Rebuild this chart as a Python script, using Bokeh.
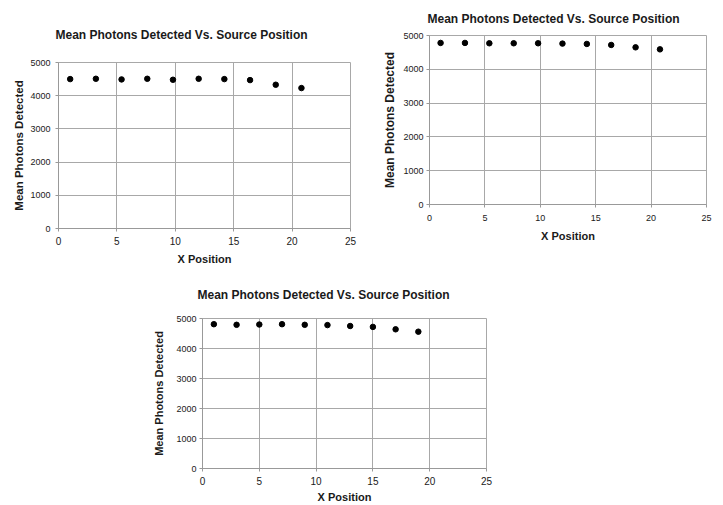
from bokeh.plotting import figure
from bokeh.layouts import column, row
from bokeh.models import Range1d, FixedTicker, Spacer
from bokeh.embed import file_html
from bokeh.resources import INLINE

# ---- data ----
x_a = [1, 3.2, 5.4, 7.6, 9.8, 12, 14.2, 16.4, 18.6, 20.8]
y_a = [4500, 4510, 4490, 4510, 4480, 4510, 4500, 4470, 4330, 4230]

x_b = [1, 3.2, 5.4, 7.6, 9.8, 12, 14.2, 16.4, 18.6, 20.8]
y_b = [4780, 4780, 4770, 4770, 4770, 4760, 4750, 4720, 4650, 4590]

x_c = [1, 3, 5, 7, 9, 11, 13, 15, 17, 19]
y_c = [4810, 4790, 4800, 4810, 4790, 4780, 4750, 4720, 4640, 4560]

title_text = "Mean Photons Detected Vs. Source Position"
x_label = "X Position"
y_label = "Mean Photons Detected"
x_ticks = [0, 5, 10, 15, 20, 25]
y_ticks = [0, 1000, 2000, 3000, 4000, 5000]

FONT = "Liberation Sans"
GRID = "#a8a8a8"
AXIS = "#999999"
TEXT = "#1a1a1a"


def make_chart(xs, ys, width, height, mb, tcfg, xcfg, ycfg):
    p = figure(width=width, height=height, output_backend="svg",
               toolbar_location=None,
               x_range=Range1d(0, 25), y_range=Range1d(0, 5000),
               min_border_left=mb[0], min_border_right=mb[1],
               min_border_top=mb[2], min_border_bottom=mb[3])
    p.title.text = title_text
    p.title.text_font = FONT
    p.title.text_font_size = "12px"
    p.title.text_font_style = "bold"
    p.title.text_color = TEXT
    p.title.align = "left"
    p.title.offset = tcfg[0]
    p.title.standoff = tcfg[1]

    p.outline_line_color = GRID
    p.background_fill_color = "white"
    p.border_fill_color = "white"

    for ax, cfg, ticks, lab in ((p.xaxis[0], xcfg, x_ticks, x_label),
                                (p.yaxis[0], ycfg, y_ticks, y_label)):
        ax.ticker = FixedTicker(ticks=ticks)
        ax.axis_label = lab
        ax.axis_label_text_font = FONT
        ax.axis_label_text_font_style = "bold"
        ax.axis_label_text_font_size = cfg[0]
        ax.axis_label_text_color = TEXT
        ax.axis_label_standoff = cfg[1]
        ax.major_label_text_font = FONT
        ax.major_label_text_font_size = cfg[2]
        ax.major_label_text_color = TEXT
        ax.major_label_standoff = cfg[3]
        ax.major_tick_out = cfg[4]
        ax.major_tick_in = 0
        ax.minor_tick_line_color = None
        ax.axis_line_color = AXIS
        ax.major_tick_line_color = AXIS

    p.xgrid.ticker = FixedTicker(ticks=x_ticks)
    p.ygrid.ticker = FixedTicker(ticks=y_ticks)
    p.xgrid.grid_line_color = GRID
    p.ygrid.grid_line_color = GRID

    p.scatter(xs, ys, size=5.5, color="black", marker="circle")
    return p


# mb: (left, right, top, bottom); tcfg: (offset, standoff)
# axis cfg: (label size, label standoff, tick label size, tick standoff, tick out)
p1 = make_chart(x_a, y_a, 380, 268, (58, 30, 62, 40), (-3, 42),
                ("11px", 5, "10px", 5, 3), ("11.5px", 2, "9px", 5, 3))
p2 = make_chart(x_b, y_b, 343, 268, (45, 17, 34, 64), (-2, 19),
                ("11px", 6, "9px", 7, 3), ("12px", 3, "9px", 3, 3))
p3 = make_chart(x_c, y_c, 351, 237, (47, 15, 50, 36), (-5, 33),
                ("11px", 3, "10px", 5, 3), ("11px", 8, "9px", 3, 3))

layout = column(row(column(p1), column(p2)),
                row(Spacer(width=150, height=237), column(p3)))

open("out.html", "w").write(file_html(layout, INLINE))
